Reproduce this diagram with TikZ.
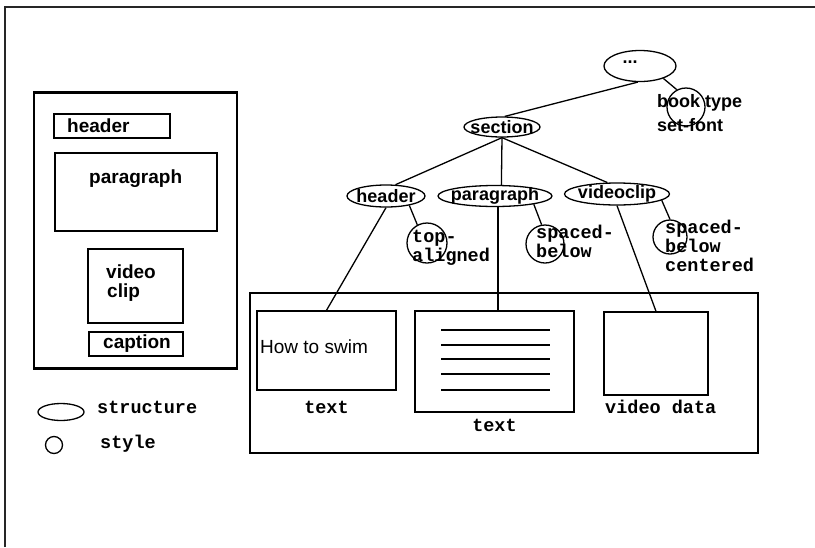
\documentclass[tikz,border=0pt]{standalone}
\usepackage{fontspec}
\usepackage{tikz}
\usetikzlibrary{shapes.geometric, positioning}

\newfontfamily\labelsans{Liberation Sans}
\newfontfamily\labelmono{Liberation Mono}

\begin{document}
\begin{tikzpicture}[
  x=1pt, y=-1pt,
  box/.style={rectangle, draw, line width=1.4pt, inner sep=0pt},
  struct/.style={ellipse, draw, line width=1.3pt, inner sep=0pt},
  stylering/.style={circle, draw, line width=1.3pt, inner sep=0pt},
  link/.style={line width=1.3pt},
  sanstxt/.style={inner sep=0pt, font=\labelsans\bfseries\fontsize{19}{21}\selectfont},
  treetxt/.style={inner sep=0pt, font=\labelsans\bfseries\fontsize{18}{20}\selectfont},
  plaintxt/.style={inner sep=0pt, font=\labelsans\fontsize{19}{21}\selectfont},
  monotxt/.style={inner sep=0pt, align=left, font=\labelmono\bfseries\fontsize{18.5}{19}\selectfont}
]

% sheet
\useasboundingbox (0,0) rectangle (815,547);
\draw[line width=1.2pt, black!85] (5,547) -- (5,7) -- (815,7);

% Layout panel
\node[box, line width=2.6pt, minimum width=203pt, minimum height=276pt] (page) at (135.5,230.5) {};
\node[box, minimum width=116pt, minimum height=24pt] (hdrbox) at (112,126) {};
\node[sanstxt, anchor=base west] (hdrtxt) at (67,132) {header};
\node[box, minimum width=162pt, minimum height=78pt] (parbox) at (136,192) {};
\node[sanstxt, anchor=base west] (partxtl) at (89,183) {paragraph};
\node[box, minimum width=95pt, minimum height=74pt] (clipbox) at (135.5,286) {};
\node[sanstxt, anchor=base west] (cliptxt1) at (106,278) {video};
\node[sanstxt, anchor=base west] (cliptxt2) at (107,297) {clip};
\node[box, minimum width=94pt, minimum height=24pt] (capbox) at (136,344) {};
\node[sanstxt] (captxt) at (137,344) {caption};

% Legend
\node[struct, minimum width=46pt, minimum height=17pt] (legstruct) at (61,412) {};
\node[monotxt, anchor=base west] (legstructtxt) at (97,413) {structure};
\node[stylering, minimum size=17pt] (legstyle) at (54,445) {};
\node[monotxt, anchor=base west] (legstyletxt) at (100,448) {style};

% Structure tree
\node[struct, minimum width=72pt, minimum height=31pt, label={[treetxt, xshift=-10pt, yshift=4pt]center:...}] (doc) at (640,66) {};
\node[struct, minimum width=76pt, minimum height=20pt, label={[treetxt]center:section}] (section) at (502,127) {};
\node[stylering, minimum size=38pt] (bookring) at (686,107) {};
\node[treetxt, anchor=base west] (booktype) at (657,107) {book type};
\node[treetxt, anchor=base west] (setfont) at (657,131) {set-font};

\node[struct, minimum width=78pt, minimum height=22pt, label={[treetxt]center:header}] (header) at (386,196) {};
\node[struct, minimum width=114pt, minimum height=21pt, label={[treetxt]center:paragraph}] (paragraph) at (495,196) {};
\node[struct, minimum width=105pt, minimum height=22pt, label={[treetxt]center:videoclip}] (videoclip) at (617,194) {};

% Style rings (text anchored on its last line)
\node[stylering, minimum size=40pt] (topring) at (427,243) {};
\node[monotxt, anchor=base west] (toptxt) at (412,261) {top-\\aligned};
\node[stylering, minimum size=38pt] (parring) at (545,244) {};
\node[monotxt, anchor=base west] (spacetxt) at (536,257) {spaced-\\below};
\node[stylering, minimum size=34pt] (vidring) at (670,237) {};
\node[monotxt, anchor=base west] (centertxt) at (665,271) {spaced-\\below\\centered};

% Presentation
\node[box, minimum width=508pt, minimum height=160pt] (screen) at (504,373) {};
\node[box, minimum width=139pt, minimum height=79pt] (swim) at (326.5,350.5) {};
\node[plaintxt, anchor=base west] (swimtxt) at (260,353) {How to swim};
\node[box, minimum width=159pt, minimum height=101pt] (parabox) at (494.5,361.5) {};
\foreach \ly in {330,345,359,374,390}
  \draw[line width=1.3pt] (441,\ly) -- (550,\ly);
\node[box, minimum width=104pt, minimum height=83pt] (vidbox) at (656,353.5) {};
\node[monotxt, below=10.5pt of swim] (swimlbl) {text};
\node[monotxt, below=6pt of parabox] (paralbl) {text};
\node[monotxt, anchor=base west] (vidlbl) at (605,413) {video data};

% Tree edges
\draw[link] (doc.262) -- (section.75);
\draw[link] (doc.332) -- (bookring.118);
\draw[link] (section.south) -- (header.50);
\draw[link] (section.south) -- (paragraph.60);
\draw[link] (section.south) -- (videoclip.130);

% Structure -> style
\draw[link] (header.338) -- (topring.118);
\draw[link] (paragraph.348) -- (parring.100);
\draw[link] (videoclip.352) -- (vidring.north);

% Structure -> content
\draw[link] (header.south) -- (swim.north);
\draw[link] (paragraph.285) -- (paragraph.285 |- parabox.north);
\draw[link] (videoclip.south) -- (vidbox.north);

\end{tikzpicture}
\end{document}
